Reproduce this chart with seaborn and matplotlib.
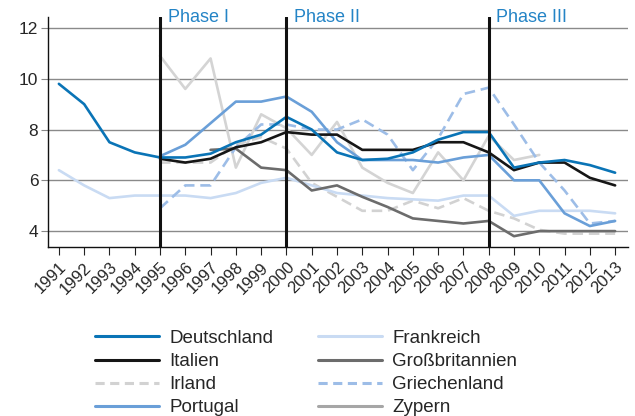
import numpy as np
import pandas as pd
import seaborn as sns
import matplotlib
matplotlib.use("Agg")
import matplotlib.pyplot as plt
from matplotlib.lines import Line2D
from matplotlib.transforms import ScaledTranslation

nan = np.nan
jahre = list(range(1991, 2014))

# Werte je Land (1991-2013)
deutschland = [9.8, 9.0, 7.5, 7.1, 6.9, 6.9, 7.05, 7.5, 7.8, 8.5, 8.0, 7.1,
               6.8, 6.85, 7.1, 7.6, 7.9, 7.9, 6.5, 6.7, 6.8, 6.6, 6.3]
italien = [nan, nan, nan, nan, 6.85, 6.7, 6.85, 7.3, 7.5, 7.9, 7.8, 7.8,
           7.2, 7.2, 7.2, 7.5, 7.5, 7.1, 6.4, 6.7, 6.7, 6.1, 5.8]
irland = [nan, nan, nan, nan, 6.7, 6.7, 6.7, 7.4, 7.7, 7.25, 5.9, 5.35,
          4.8, 4.8, 5.2, 4.9, 5.3, 4.8, 4.5, 4.05, 3.9, 3.9, 3.9]
portugal = [nan, nan, nan, nan, 6.95, 7.4, 8.25, 9.1, 9.1, 9.3, 8.7, 7.5,
            6.8, 6.8, 6.8, 6.7, 6.9, 7.0, 6.0, 6.0, 4.7, 4.2, 4.4]
frankreich = [6.4, 5.8, 5.3, 5.4, 5.4, 5.4, 5.3, 5.5, 5.9, 6.1, 5.8, 5.5,
              5.4, 5.3, 5.25, 5.2, 5.4, 5.4, 4.6, 4.8, 4.8, 4.8, 4.7]
grossbritannien = [nan, nan, nan, nan, nan, nan, 7.2, 7.25, 6.5, 6.4, 5.6, 5.8,
                   5.35, 4.95, 4.5, 4.4, 4.3, 4.4, 3.8, 4.0, 4.0, 4.0, 4.0]
griechenland = [nan, nan, nan, nan, 4.9, 5.8, 5.8, 7.3, 8.2, 8.2, 8.0, 8.0,
                8.4, 7.8, 6.4, 7.65, 9.4, 9.65, 8.2, 6.7, 5.6, 4.3, 4.4]
zypern = [nan, nan, nan, nan, 10.9, 9.6, 10.8, 6.5, 8.6, 8.05, 7.0, 8.3,
          6.5, 5.9, 5.5, 7.1, 6.0, 7.75, 6.8, 7.0, nan, nan, nan]

laender = ["Deutschland", "Italien", "Irland", "Portugal",
           "Frankreich", "Großbritannien", "Griechenland", "Zypern"]
werte = [deutschland, italien, irland, portugal,
         frankreich, grossbritannien, griechenland, zypern]
phasen = ["Phase I", "Phase II", "Phase III"]
phasen_jahre = [1995, 2000, 2008]

farben = {"Deutschland": "#0a74b6", "Italien": "#161616", "Irland": "#d2d2d2",
          "Portugal": "#6a9fd8", "Frankreich": "#c9dbf3",
          "Großbritannien": "#6c6c6c", "Griechenland": "#9dbde7",
          "Zypern": "#d4d4d4"}
legende_farben = dict(farben, Zypern="#a6a6a6")
gestrichelt = {"Irland", "Griechenland"}

# Langes Format fuer seaborn
df = pd.DataFrame({"Jahr": jahre * len(laender),
                   "Land": [l for l in laender for _ in jahre],
                   "Wert": [v for w in werte for v in w]}).dropna()

sns.set_style("ticks")
plt.rcParams["font.family"] = ["Liberation Sans", "DejaVu Sans"]

fig = plt.figure(figsize=(6.35, 4.16), dpi=100)
ax = fig.add_axes([0.0756, 0.406, 0.913, 0.553])

# Zeichenreihenfolge: helle Linien unten
reihenfolge = ["Zypern", "Irland", "Frankreich", "Griechenland",
               "Großbritannien", "Portugal", "Italien", "Deutschland"]
for land in reihenfolge:
    sns.lineplot(data=df[df["Land"] == land], x="Jahr", y="Wert",
                 color=farben[land], lw=1.9, ax=ax, legend=False,
                 linestyle=(0, (4, 2.2)) if land in gestrichelt else "-",
                 zorder=3)

for j, txt in zip(phasen_jahre, phasen):
    ax.axvline(j, color="#111111", lw=2.2, zorder=4)
    ax.text(j + 0.3, 12.43, txt, color="#2484c6", fontsize=13,
            va="center", ha="left", clip_on=False)

ax.set_xlim(1990.57, 2013.5)
ax.set_ylim(3.37, 12.43)
ax.set_xticks(jahre)
ax.set_xticklabels([str(j) for j in jahre], rotation=45, ha="right",
                   rotation_mode="anchor", fontsize=12)
verschiebung = ScaledTranslation(4 / 72, 0, fig.dpi_scale_trans)
for lbl in ax.get_xticklabels():
    lbl.set_transform(lbl.get_transform() + verschiebung)
ax.set_yticks([4, 6, 8, 10, 12])
ax.tick_params(axis="y", labelsize=12.5, length=5, color="#888888", pad=2)
ax.tick_params(axis="x", length=6, color="#222222", pad=3)
ax.yaxis.grid(True, color="#8a8a8a", lw=1)
ax.set_xlabel("")
ax.set_ylabel("")
sns.despine(ax=ax)
for s in ["left", "bottom"]:
    ax.spines[s].set_color("#111111")
    ax.spines[s].set_linewidth(1)

handles = [Line2D([], [], color=legende_farben[l], lw=2.2,
                  linestyle=(0, (3, 1.8)) if l in gestrichelt else "-")
           for l in laender]
fig.legend(handles, laender, ncol=2, loc="upper left",
           bbox_to_anchor=(0.150, 0.207), frameon=False, fontsize=13.5,
           handlelength=3.4, handletextpad=0.55, columnspacing=2.4,
           labelspacing=0.32, borderpad=0, borderaxespad=0)

fig.savefig("out.png", dpi=100)
